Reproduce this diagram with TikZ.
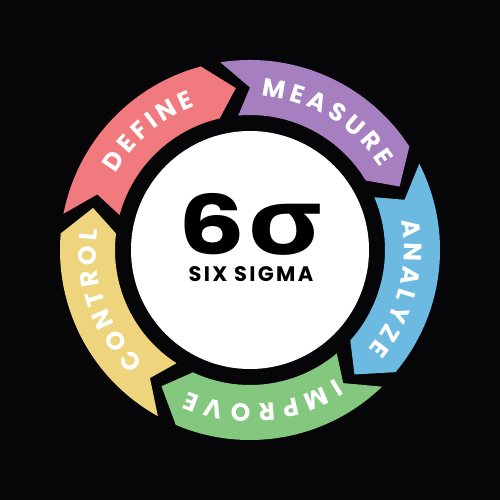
\documentclass[tikz,border=0pt]{standalone}
\usepackage{fontspec}
\setmainfont{Poppins}
\newfontfamily\grkfont{Open Sans}
\newfontfamily\subfamily{Poppins}[LetterSpace=11]
\usetikzlibrary{decorations.text}
\definecolor{bg}{HTML}{060608}
\definecolor{cdef}{HTML}{F07A7E}
\definecolor{cmea}{HTML}{A67FC0}
\definecolor{cana}{HTML}{6CB9E1}
\definecolor{cimp}{HTML}{84C77F}
\definecolor{ccon}{HTML}{EED47C}
\newcommand\lblfont{\bfseries\fontsize{25}{25}\selectfont}
\newcommand\lk{\kern4.2pt}
\newcommand\lkw{\kern6.8pt}
\newcommand\bandarrow[3]{%
  \fill[#3] ({#1+9}:190) arc[start angle={#1+9}, end angle={#2+15}, radius=190]
    -- ({#2+5}:162.5) -- ({#2+13}:135)
    arc[start angle={#2+13}, end angle={#1+5}, radius=135]
    -- (#1:162.5) -- cycle;}
\newcommand\bandlabel[2]{%
  \path[decorate, decoration={text along path, text align=center, text color=white,
      text={|\lblfont|#2}}]
    ({#1+45}:154) arc[start angle={#1+45}, end angle={#1-45}, radius=154];}
\begin{document}
\begin{tikzpicture}[x=1pt,y=1pt]
\fill[bg] (0,0) rectangle (500,500);
\useasboundingbox (0,0) rectangle (500,500);
\begin{scope}[shift={(250,250)}]
  \bandarrow{160}{90}{cdef}
  \bandarrow{90}{18}{cmea}
  \bandarrow{18}{-55}{cana}
  \bandarrow{-55}{-128}{cimp}
  \bandarrow{-128}{-200}{ccon}
  \fill[white] (0,0) circle[radius=119];
  \bandlabel{130.5}{{D\lk}{E\lk}{F\lk}{I\lk}{N\lk}{E}}
  \bandlabel{59}{{M\lk}{E\lk}{A\lk}{S\lk}{U\lk}{R\lk}{E}}
  \bandlabel{-14.5}{{A\lk}{N\lk}{A\lk}{L\lk}{Y\lk}{Z\lk}{E}}
  \bandlabel{-85}{{I\lkw}{M\lkw}{P\lkw}{R\lkw}{O\lkw}{V\lkw}{E}}
  \bandlabel{199.5}{{C\lk}{O\lk}{N\lk}{T\lk}{R\lk}{O\lk}{L}}
\end{scope}
\node[anchor=base, inner sep=0pt] (sixsigma) at (250.5,245)
  {\bfseries\fontsize{82}{82}\selectfont\scalebox{1.28}[1]{6}\hspace{2pt}\scalebox{1.25}[1]{\grkfont\bfseries\fontsize{92}{92}\selectfont σ}};
\node[anchor=base, inner sep=0pt] (sixsigmatext) at (251,218.5)
  {\subfamily\bfseries\fontsize{21}{21}\selectfont SIX SIGMA};
\end{tikzpicture}
\end{document}
